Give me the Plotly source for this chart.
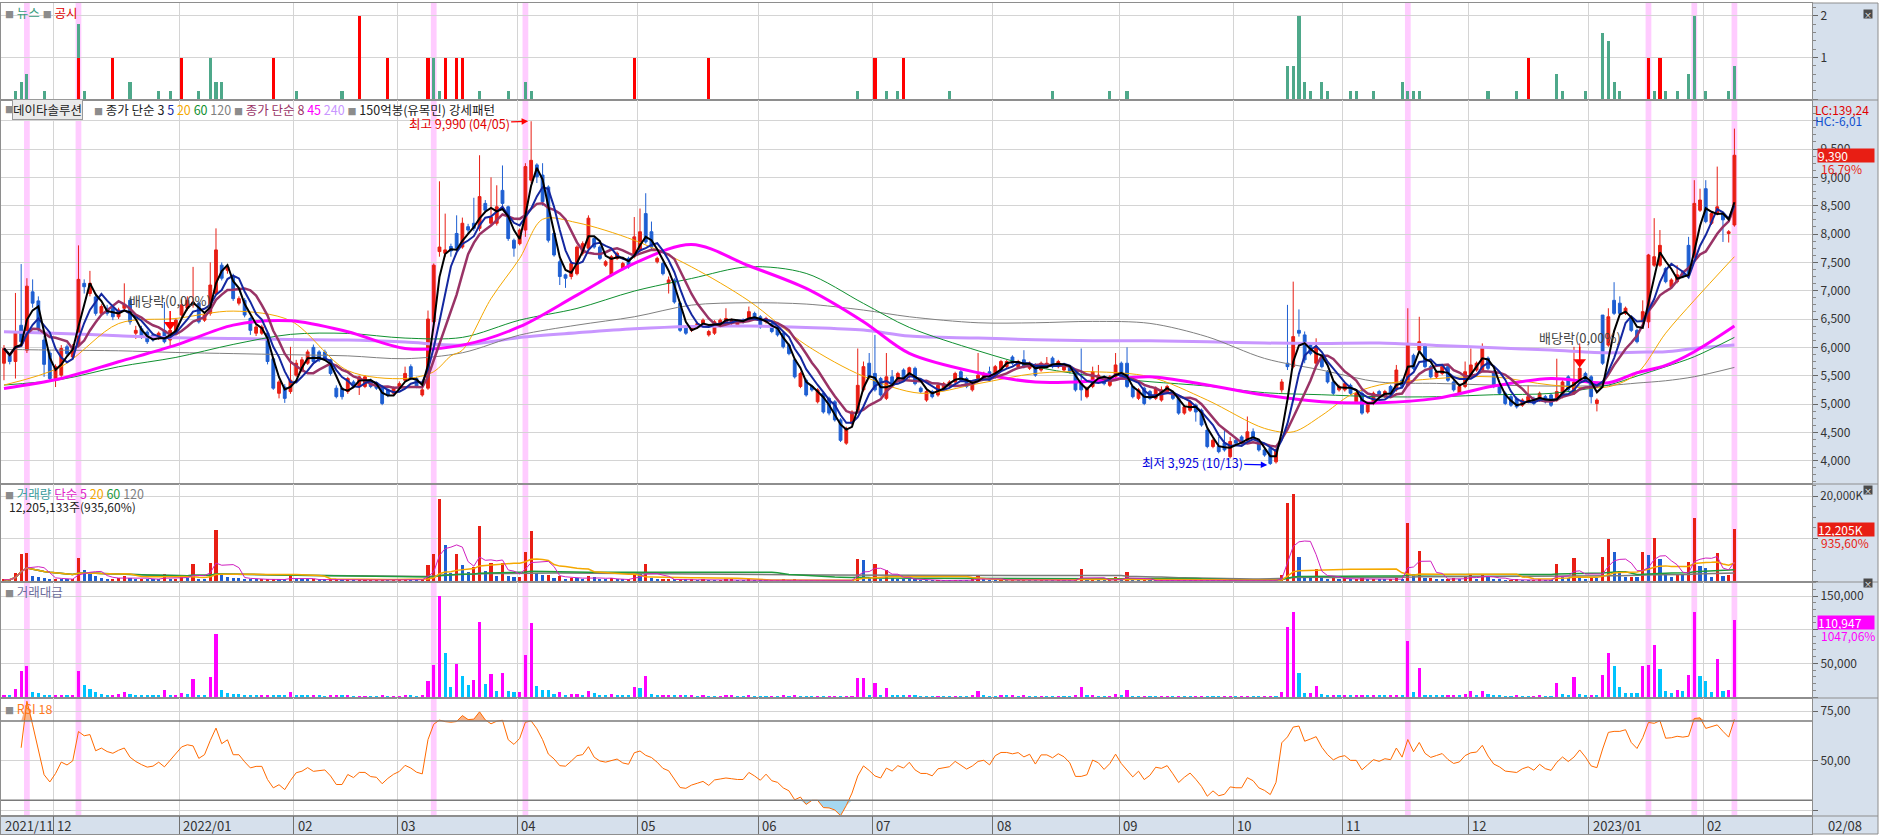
import numpy as np
import pandas as pd
import plotly.graph_objects as go

# KRX trading days on the chart (2021-11-18 .. 2023-02-08)
krx_holidays = ["2021-12-31", "2022-01-31", "2022-02-01", "2022-02-02", "2022-03-01",
                "2022-03-09", "2022-05-05", "2022-06-01", "2022-06-06", "2022-08-15",
                "2022-09-09", "2022-09-12", "2022-10-03", "2022-10-10", "2022-12-30",
                "2023-01-23", "2023-01-24"]
dates = [d for d in pd.bdate_range("2021-11-18", "2023-02-08")
         if d.strftime("%Y-%m-%d") not in krx_holidays]

# daily candles (won)
O = [5720, 5860, 5750, 6390, 5950, 6980, 6820, 6130, 5900, 5450,
     5510, 6010, 5830, 6040, 7130, 6950, 6890, 6600, 6690, 6690,
     6540, 6690, 6830, 6250, 6330, 6270, 6220, 6160, 6300, 6130,
     6250, 6570, 6690, 6750, 6780, 6480, 6600, 6950, 7450, 7360,
     7250, 6780, 6830, 6510, 6250, 6250, 6250, 5800, 5190, 5300,
     5220, 5510, 5600, 5720, 6000, 5920, 5920, 5780, 5280, 5280,
     5220, 5390, 5310, 5310, 5420, 5380, 5300, 5250, 5190, 5280,
     5420, 5660, 5450, 5160, 5280, 6450, 7690, 7660, 7780, 8010,
     7770, 8130, 8190, 8100, 8540, 8190, 8190, 8770, 8480, 7890,
     7830, 8070, 8950, 9220, 9040, 8830, 8010, 7510, 7280, 7250,
     7300, 7660, 7750, 7920, 7770, 7450, 7280, 7570, 7390, 7570,
     7600, 7720, 8360, 8040, 7510, 7480, 7130, 7190, 6780, 6360,
     6300, 6360, 6420, 6220, 6250, 6420, 6420, 6420, 6390, 6480,
     6480, 6600, 6540, 6450, 6420, 6360, 6250, 6040, 5780, 5310,
     5420, 5310, 5040, 5190, 5100, 5040, 4720, 4310, 4660, 4890,
     5250, 5720, 5540, 5450, 5100, 5480, 5420, 5600, 5480, 5630,
     5280, 5070, 5220, 5160, 5280, 5330, 5390, 5570, 5450, 5250,
     5450, 5450, 5570, 5480, 5600, 5660, 5830, 5660, 5780, 5630,
     5690, 5600, 5660, 5810, 5660, 5600, 5660, 5570, 5390, 5130,
     5310, 5450, 5480, 5330, 5480, 5720, 5720, 5310, 5100, 5280,
     5220, 5100, 5070, 5220, 5190, 5100, 4840, 4890, 4980, 4890,
     4540, 4250, 4250, 4310, 4070, 4360, 4420, 4360, 4510, 4310,
     4190, 4220, 3980, 5250, 5720, 5660, 6300, 6220, 6040, 5720,
     5830, 5570, 5390, 5250, 5250, 5330, 5040, 5190, 4860, 5010,
     5220, 5130, 5310, 5250, 5420, 5330, 5860, 5950, 6040, 5660,
     5480, 5540, 5660, 5390, 5190, 5310, 5480, 5600, 5600, 5810,
     5570, 5310, 5190, 5130, 5100, 4980, 5040, 5100, 5070, 5130,
     5160, 5070, 5130, 5480, 5190, 5390, 5540, 5480, 5010, 6570,
     6040, 6830, 6780, 6600, 6510, 6300, 6450, 6450, 7450, 7450,
     7390, 7070, 7160, 7330, 7800, 7600, 8420, 8800, 8190, 8360,
     8360, 8010, 8160]
H = [6040, 5900, 6960, 7470, 7220, 7200, 6900, 6200, 5950, 5700,
     6040, 6050, 6060, 7800, 7200, 7350, 6960, 6760, 6750, 6720,
     6700, 7130, 6870, 6380, 6380, 6300, 6250, 6280, 6800, 6420,
     6520, 6850, 6900, 7420, 6810, 6600, 7500, 8100, 7500, 7460,
     7300, 6900, 6870, 6540, 6400, 6400, 6280, 5830, 5420, 5350,
     6010, 5780, 5830, 5960, 6050, 5950, 5960, 5800, 5330, 5300,
     5480, 5420, 5500, 5510, 5450, 5400, 5330, 5280, 5310, 5400,
     5660, 5700, 5480, 5300, 6650, 7480, 8930, 8360, 7830, 8330,
     8290, 8180, 8640, 9390, 8600, 9000, 8860, 9210, 8500, 7920,
     8100, 9250, 9990, 9250, 9250, 8860, 8050, 7550, 7300, 7520,
     7800, 7870, 8330, 7950, 7800, 7540, 7630, 7690, 7510, 7600,
     8300, 8450, 8720, 8220, 7600, 7510, 7250, 7220, 6810, 6390,
     6390, 6450, 6510, 6310, 6480, 6510, 6690, 6510, 6480, 6510,
     6720, 6630, 6570, 6540, 6450, 6390, 6280, 6070, 5810, 5570,
     5450, 5340, 5280, 5220, 5130, 5070, 4750, 4600, 4890, 5980,
     5750, 5900, 6220, 5480, 5900, 5600, 5570, 5630, 5660, 5660,
     5310, 5250, 5250, 5360, 5390, 5420, 5570, 5600, 5480, 5420,
     5900, 5570, 5660, 5690, 5780, 5780, 5860, 5780, 5950, 5750,
     5720, 5750, 5830, 5840, 5780, 5720, 5690, 5600, 5980, 5310,
     5660, 5690, 5510, 5510, 5900, 5750, 6000, 5340, 5280, 5310,
     5250, 5310, 5310, 5340, 5220, 5130, 4980, 5070, 5010, 4920,
     4570, 4390, 4420, 4540, 4420, 4390, 4450, 4780, 4570, 4340,
     4220, 4250, 4220, 5440, 6750, 7160, 6670, 6280, 6070, 6160,
     5860, 5600, 5420, 5340, 5390, 5360, 5220, 5250, 5040, 5220,
     5250, 5250, 5340, 5690, 5450, 6690, 5890, 6540, 6070, 5690,
     5600, 5690, 5690, 5420, 5340, 5750, 5980, 5750, 6070, 5840,
     5600, 5340, 5220, 5160, 5130, 5100, 5330, 5130, 5220, 5160,
     5190, 5800, 5420, 5510, 6010, 6070, 5570, 5510, 5100, 6570,
     6690, 7150, 6900, 6720, 6540, 6330, 6830, 7650, 8280, 8070,
     7420, 7220, 7450, 7360, 7950, 8950, 8800, 8950, 8390, 9190,
     8390, 8070, 9860]
L = [5420, 5700, 5450, 6050, 5900, 6700, 6250, 5480, 5400, 5300,
     5480, 5850, 5800, 6000, 6950, 6900, 6560, 6560, 6560, 6480,
     6500, 6650, 6400, 6150, 6150, 6060, 6100, 6130, 6070, 6000,
     6220, 6540, 6650, 6700, 6420, 6450, 6560, 6920, 7180, 7300,
     6820, 6740, 6530, 6220, 6200, 6220, 5700, 5250, 5100, 5020,
     5180, 5480, 5560, 5690, 5700, 5740, 5770, 5500, 5100, 5080,
     5180, 5280, 5160, 5280, 5280, 5250, 4980, 5120, 5160, 5250,
     5400, 5420, 5280, 5130, 5250, 6400, 7600, 7600, 7600, 7700,
     7740, 8000, 8050, 8050, 8380, 8150, 8150, 8480, 7880, 7600,
     7800, 7950, 8900, 8900, 8500, 7850, 7600, 7100, 7050, 7200,
     7270, 7620, 7700, 7740, 7540, 7420, 7250, 7540, 7360, 7390,
     7570, 7690, 7830, 7740, 7480, 7270, 6950, 6770, 6270, 6220,
     6270, 6330, 6390, 6190, 6220, 6390, 6390, 6390, 6360, 6420,
     6450, 6480, 6330, 6420, 6250, 6190, 5980, 5860, 5450, 5280,
     5130, 5220, 5010, 4830, 4800, 4690, 4330, 4280, 4630, 4860,
     5220, 5450, 5220, 5130, 5070, 5330, 5390, 5420, 5450, 5330,
     5190, 5040, 5100, 5130, 5250, 5300, 5360, 5390, 5280, 5220,
     5420, 5420, 5390, 5450, 5570, 5630, 5690, 5630, 5630, 5600,
     5480, 5570, 5630, 5630, 5630, 5570, 5540, 5220, 5060, 5100,
     5280, 5420, 5330, 5300, 5450, 5450, 5280, 5100, 5070, 4980,
     5070, 5070, 5040, 5190, 5070, 4810, 4810, 4860, 4690, 4600,
     4220, 4220, 4130, 4160, 4040, 4280, 4280, 4330, 4390, 4160,
     4070, 3925, 3950, 5200, 5600, 5630, 6190, 5720, 5860, 5690,
     5630, 5360, 5160, 5220, 5220, 5160, 5010, 4810, 4830, 4980,
     5100, 5100, 5160, 5220, 5280, 5300, 5600, 5920, 5630, 5450,
     5450, 5510, 5390, 5220, 5160, 5280, 5450, 5570, 5570, 5600,
     5280, 5160, 4980, 4950, 4920, 4950, 5010, 4980, 5040, 5010,
     4950, 5040, 5100, 5220, 5160, 5360, 5390, 5010, 4870, 5690,
     6010, 6570, 6570, 6570, 6270, 6070, 6420, 6340, 7420, 7420,
     7130, 7040, 7130, 7220, 7270, 7570, 8390, 8190, 8160, 8330,
     7860, 7850, 8130]
C = [5980, 5750, 6280, 6100, 7080, 6780, 6310, 5700, 5450, 5660,
     5980, 5890, 6010, 7200, 7070, 7130, 6600, 6720, 6600, 6540,
     6660, 6750, 6450, 6300, 6190, 6100, 6130, 6250, 6100, 6300,
     6480, 6750, 6830, 6800, 6450, 6570, 7100, 7720, 7220, 7420,
     6860, 6860, 6570, 6300, 6360, 6360, 5750, 5280, 5390, 5100,
     5420, 5720, 5780, 5920, 5750, 5780, 5800, 5540, 5130, 5130,
     5450, 5310, 5480, 5480, 5310, 5280, 5010, 5160, 5280, 5360,
     5540, 5450, 5310, 5250, 6500, 7450, 7770, 7720, 7700, 7750,
     8190, 8070, 8100, 8660, 8420, 8300, 8480, 8540, 7920, 7750,
     8070, 9190, 9300, 9010, 8570, 7890, 7630, 7250, 7220, 7480,
     7770, 7830, 8280, 7770, 7570, 7510, 7600, 7660, 7480, 7420,
     7950, 8040, 7860, 7770, 7570, 7300, 7190, 6800, 6300, 6250,
     6360, 6420, 6480, 6280, 6450, 6480, 6510, 6480, 6450, 6450,
     6630, 6510, 6360, 6510, 6280, 6220, 6010, 5890, 5480, 5540,
     5160, 5250, 5250, 4860, 4840, 4720, 4360, 4570, 4860, 5330,
     5660, 5480, 5250, 5160, 5480, 5360, 5540, 5450, 5640, 5360,
     5220, 5220, 5130, 5330, 5360, 5390, 5540, 5420, 5310, 5390,
     5510, 5540, 5420, 5660, 5750, 5750, 5720, 5750, 5660, 5720,
     5510, 5720, 5720, 5660, 5750, 5690, 5570, 5250, 5250, 5280,
     5570, 5510, 5360, 5480, 5690, 5480, 5310, 5130, 5250, 5010,
     5100, 5280, 5250, 5310, 5100, 4840, 4950, 5040, 4860, 4630,
     4250, 4360, 4160, 4190, 4340, 4310, 4310, 4510, 4420, 4190,
     4100, 3950, 4190, 5390, 5660, 6190, 6250, 5780, 5890, 6010,
     5660, 5390, 5190, 5310, 5360, 5190, 5190, 4840, 5010, 5190,
     5130, 5220, 5190, 5600, 5310, 6070, 5630, 6100, 5660, 5480,
     5570, 5660, 5420, 5250, 5310, 5570, 5690, 5720, 6010, 5630,
     5310, 5190, 5010, 4980, 4950, 5070, 5130, 5010, 5190, 5040,
     4980, 5220, 5390, 5250, 5390, 5630, 5420, 5130, 5070, 5720,
     6540, 6600, 6600, 6690, 6300, 6100, 6630, 7630, 7600, 7800,
     7160, 7190, 7280, 7250, 7300, 8540, 8600, 8220, 8360, 8480,
     8250, 8040, 9390]
# volume, thousand shares
VOL = [300, 300, 1830, 6350, 6590, 1100, 950, 640, 500, 500,
       480, 350, 350, 5400, 2540, 1600, 1100, 640, 480, 560,
       640, 1200, 700, 500, 500, 450, 400, 350, 1600, 400,
       500, 900, 600, 3970, 500, 350, 4200, 12070, 1430, 900,
       700, 600, 500, 400, 350, 350, 400, 400, 350, 300,
       1430, 400, 350, 300, 350, 300, 250, 300, 350, 300,
       300, 250, 250, 250, 250, 250, 300, 250, 250, 250,
       400, 300, 250, 300, 3730, 6300, 19300, 8500, 2000, 6350,
       3730, 2220, 3180, 12860, 2380, 4200, 1100, 4200, 1100, 950,
       1000, 6800, 11800, 1800, 1300, 1400, 650, 1100, 480, 670,
       650, 450, 1150, 840, 460, 300, 600, 300, 280, 280,
       1950, 1740, 4000, 640, 280, 300, 320, 290, 330, 300,
       320, 150, 300, 160, 140, 150, 320, 330, 150, 140,
       320, 140, 130, 120, 130, 120, 300, 150, 350, 150,
       140, 130, 150, 140, 150, 160, 170, 180, 200, 5160,
       4920, 650, 3900, 370, 2550, 600, 550, 380, 370, 360,
       150, 140, 130, 150, 140, 130, 150, 140, 130, 380,
       1500, 360, 150, 140, 360, 340, 370, 150, 360, 150,
       140, 150, 140, 130, 150, 140, 130, 380, 2780, 380,
       400, 150, 140, 150, 900, 380, 2060, 150, 140, 150,
       140, 130, 140, 150, 130, 150, 140, 130, 140, 300,
       150, 140, 130, 150, 160, 140, 150, 200, 150, 140,
       160, 200, 180, 1500, 18400, 20400, 5600, 1120, 1100, 2830,
       900, 370, 650, 370, 650, 370, 380, 660, 380, 390,
       380, 370, 380, 650, 370, 13700, 1420, 6970, 620, 640,
       360, 350, 370, 640, 380, 900, 1670, 370, 1580, 880,
       380, 370, 150, 150, 380, 150, 140, 150, 380, 150,
       140, 4100, 930, 670, 5380, 900, 370, 680, 650, 5600,
       9940, 6900, 2350, 970, 1000, 980, 6860, 6160, 10130, 5260,
       1330, 900, 1510, 1310, 4380, 14800, 3550, 2980, 960, 6600,
       1150, 1370, 12205]

# news / disclosure counts (top panel)
news_idx = [2, 3, 4, 7, 13, 14, 22, 27, 29, 34, 36, 37, 38, 51, 59, 75, 76, 83, 88, 91,
            92, 149, 154, 156, 165, 183, 193, 196, 224, 225, 226, 227, 228, 230, 231, 235, 236, 239, 244, 245,
            246, 247, 259, 264, 271, 272, 276, 279, 280, 281, 282, 288, 290, 292, 294, 295, 297, 301, 302]
news_val = [0.2, 0.4, 0.6, 0.2, 1.8, 0.2, 0.4, 0.2, 0.2, 0.2, 1.0, 0.4, 0.4, 0.2, 0.2, 1.0, 0.2, 0.2, 0.2, 0.4,
            0.2, 0.2, 0.2, 0.2, 0.2, 0.2, 0.2, 0.2, 0.8, 0.8, 2.0, 0.4, 0.2, 0.4, 0.2, 0.2, 0.2, 0.2, 0.4, 0.2,
            0.2, 0.2, 0.2, 0.2, 0.6, 0.2, 0.2, 1.6, 1.4, 0.4, 0.2, 0.2, 0.2, 0.2, 0.6, 2.0, 0.2, 0.2, 0.8]
disc_idx = [13, 19, 31, 47, 62, 67, 74, 77, 79, 80, 110, 123, 152, 157, 266, 287, 289]
disc_val = [1, 1, 1, 1, 2, 1, 1, 1, 1, 1, 1, 1, 1, 1, 1, 1, 1]

# days flagged by "150억봉(유목민) 강세패턴"
hot_idx = [4, 13, 75, 91, 245, 287, 295, 302]

# long moving averages (their history starts before the window)
ma_idx = [0, 10, 20, 30, 40, 50, 60, 70, 80, 90, 100, 110, 120, 130, 140, 150, 158,
          170, 180, 190, 200, 210, 220, 230, 240, 250, 260, 270, 280, 285, 290, 295, 302]
ma45 = [5276, 5452, 5746, 6040, 6393, 6470, 6276, 5982, 6040, 6364, 6922, 7481, 7816, 7440, 7040, 6452, 5893,
        5552, 5388, 5405, 5482, 5335, 5158, 5041, 5023, 5100, 5317, 5452, 5376, 5552, 5682, 5923, 6375]
ma60 = [5335, 5435, 5658, 5823, 6052, 6229, 6246, 6164, 6176, 6481, 6687, 6993, 7216, 7422, 7305, 6775, 6352,
        5940, 5658, 5494, 5394, 5317, 5200, 5164, 5129, 5129, 5164, 5188, 5335, 5494, 5658, 5835, 6176]
ma120 = [5964, 5950, 5940, 5910, 5890, 5870, 5850, 5800, 5905, 6217, 6393, 6540, 6746, 6787, 6764, 6658, 6540,
         6434, 6434, 6458, 6423, 6187, 5805, 5599, 5388, 5364, 5335, 5317, 5329, 5370, 5411, 5482, 5646]
ma240 = [6276, 6246, 6205, 6170, 6158, 6140, 6129, 6093, 6040, 6176, 6258, 6329, 6370, 6375, 6352, 6305, 6200,
         6164, 6135, 6117, 6117, 6099, 6076, 6070, 6076, 6035, 5993, 5952, 5905, 5915, 5923, 5982, 6040]
ma20_idx = [0, 10, 20, 30, 40, 50, 60, 70, 75, 78, 80, 85, 90, 94, 100, 110, 120, 130, 140, 150,
            160, 170, 180, 190, 200, 210, 220, 225, 230, 235, 240, 250, 260, 270, 280, 285, 290, 295, 302]
ma20 = [5335, 5660, 6420, 6510, 6640, 6470, 5590, 5450, 5570, 5850, 5950, 6860, 7570, 8260, 8200, 7890, 7420,
        6820, 6040, 5490, 5190, 5360, 5540, 5570, 5480, 5070, 4570, 4510, 4800, 5160, 5335, 5450, 5480, 5335,
        5305, 5540, 6250, 6830, 7600]

# ex-dividend markers
exdiv_idx = [29, 275]
exdiv_text_y = [6834, 6176]
exdiv_mark_y = [6400, 5740]
exdiv_line_top = [6640, 6010]

vol_text = "12,205,133주(935,60%)"
vol_ratio = "935,60%"
amt_last = "110,947"
amt_ratio = "1047,06%"

# ---------------------------------------------------------------
n = len(C)
idx = list(range(n))
dates = dates[:n]
month_starts = [i for i in range(1, n) if dates[i].month != dates[i - 1].month]
month_text = [dates[i].strftime("%Y/%m") if dates[i].month == 1 else dates[i].strftime("%m")
              for i in month_starts]
grid_x = [i - 0.4 for i in month_starts]

close = pd.Series(C, dtype=float)
ma3 = close.rolling(3, min_periods=1).mean()
ma5 = close.rolling(5, min_periods=1).mean()
ma8 = close.rolling(8, min_periods=1).mean()

vol = pd.Series(VOL, dtype=float)
vma = {w: vol.rolling(w, min_periods=1).mean() for w in (5, 20, 60, 120)}
amt = [v * c / 1000 for v, c in zip(VOL, C)]  # 백만원

delta = close.diff()
au = delta.clip(lower=0).ewm(alpha=1 / 18, adjust=True, min_periods=3).mean()
ad = (-delta).clip(lower=0).ewm(alpha=1 / 18, adjust=True, min_periods=3).mean()
rsi = 100 * au / (au + ad)
rsi_hi = rsi.where(rsi.isna() | (rsi > 70), 70)
rsi_lo = rsi.where(rsi.isna() | (rsi < 30), 30)

RED = "#E81E14"
BLUE = "#1E5FD2"
MAG = "#FF00FF"
CYAN = "#00C3FF"
vol_col = [RED if i == 0 or VOL[i] >= VOL[i - 1] else BLUE for i in idx]
amt_col = [MAG if i == 0 or amt[i] >= amt[i - 1] else CYAN for i in idx]

hi_i = int(np.argmax(H))
lo_i = int(np.argmin(L))
comma = lambda v: f"{v:.2f}".replace(".", ",")


def py(p):  # pixel row -> paper
    return (834 - p) / 831


def pxx(p):  # pixel column -> paper
    return (p - 1) / 1811


fig = go.Figure()

# news panel
fig.add_trace(go.Bar(x=news_idx, y=news_val, width=0.55, marker=dict(color="#4EA88A", line_width=0),
                     xaxis="x", yaxis="y"))
fig.add_trace(go.Bar(x=disc_idx, y=disc_val, width=0.55, marker=dict(color="#FF0000", line_width=0),
                     xaxis="x", yaxis="y"))

# price panel
for xs, ys, col, w in [(ma_idx, ma240, "#C896FF", 3), (ma_idx, ma120, "#808080", 1),
                       (ma_idx, ma60, "#109030", 1), (ma20_idx, ma20, "#F5A800", 1),
                       (ma_idx, ma45, "#FF00FF", 3)]:
    fig.add_trace(go.Scatter(x=xs, y=ys, mode="lines",
                             line=dict(color=col, width=w, shape="spline", smoothing=0.9),
                             xaxis="x2", yaxis="y2", hoverinfo="skip"))
fig.add_trace(go.Candlestick(x=idx, open=O, high=H, low=L, close=C, whiskerwidth=0,
                             increasing=dict(line=dict(color=RED, width=1), fillcolor=RED),
                             decreasing=dict(line=dict(color=BLUE, width=1), fillcolor=BLUE),
                             xaxis="x2", yaxis="y2", hoverinfo="skip"))
for ys, col, w in [(ma8, "#993366", 2.5), (ma5, "#1428A0", 2), (ma3, "#000000", 2)]:
    fig.add_trace(go.Scatter(x=idx, y=ys, mode="lines", line=dict(color=col, width=w),
                             xaxis="x2", yaxis="y2", hoverinfo="skip"))
for i, top, mk in zip(exdiv_idx, exdiv_line_top, exdiv_mark_y):
    fig.add_trace(go.Scatter(x=[i, i], y=[top, mk], mode="lines", line=dict(color="#FF0000", width=1.5),
                             xaxis="x2", yaxis="y2", hoverinfo="skip"))
    fig.add_trace(go.Scatter(x=[i], y=[mk], mode="markers",
                             marker=dict(symbol="triangle-down", size=11, color="#FF0000"),
                             xaxis="x2", yaxis="y2", hoverinfo="skip"))

# volume panel
fig.add_trace(go.Bar(x=idx, y=VOL, width=0.55, marker=dict(color=vol_col, line_width=0),
                     xaxis="x3", yaxis="y3", hoverinfo="skip"))
for w, col, lw in [(120, "#7A7A7A", 1.5), (60, "#1E9B3C", 1.5), (20, "#F5A800", 1.5), (5, "#D020C0", 1)]:
    fig.add_trace(go.Scatter(x=idx, y=vma[w], mode="lines", line=dict(color=col, width=lw),
                             xaxis="x3", yaxis="y3", hoverinfo="skip"))

# trading value panel
fig.add_trace(go.Bar(x=idx, y=amt, width=0.55, marker=dict(color=amt_col, line_width=0),
                     xaxis="x4", yaxis="y4", hoverinfo="skip"))

# RSI panel
fig.add_trace(go.Scatter(x=idx, y=[70] * n, mode="lines", line=dict(width=0), xaxis="x5", yaxis="y5",
                         hoverinfo="skip"))
fig.add_trace(go.Scatter(x=idx, y=rsi_hi, mode="lines", line=dict(width=0), fill="tonexty",
                         fillcolor="#F7B48C", xaxis="x5", yaxis="y5", hoverinfo="skip"))
fig.add_trace(go.Scatter(x=idx, y=[30] * n, mode="lines", line=dict(width=0), xaxis="x5", yaxis="y5",
                         hoverinfo="skip"))
fig.add_trace(go.Scatter(x=idx, y=rsi_lo, mode="lines", line=dict(width=0), fill="tonexty",
                         fillcolor="#A6D8F0", xaxis="x5", yaxis="y5", hoverinfo="skip"))
fig.add_trace(go.Scatter(x=idx, y=rsi, mode="lines", line=dict(color="#FF6A00", width=1),
                         xaxis="x5", yaxis="y5", hoverinfo="skip"))

# date band (axis strip)
fig.add_trace(go.Scatter(x=[0], y=[-1], mode="markers", marker=dict(opacity=0), xaxis="x6", yaxis="y6",
                         hoverinfo="skip"))

XR = [-0.52, 315.54]


def xax(n_, grid="#D4D4D4"):
    d = dict(domain=[0, 1], anchor="y" if n_ == 1 else f"y{n_}", range=XR, tickmode="array",
             tickvals=grid_x, showticklabels=False, ticks="", showgrid=True, gridcolor=grid,
             zeroline=False, showline=True, mirror=True, linecolor="#8E8E8E", linewidth=1,
             rangeslider=dict(visible=False))
    if n_ > 1:
        d["matches"] = "x"
    return d


def yax(n_, dom, rng, tv, tt, minor=None, **kw):
    d = dict(domain=dom, anchor="x" if n_ == 1 else f"x{n_}", range=rng, side="right",
             tickmode="array", tickvals=tv, ticktext=tt, ticks="outside", ticklen=5,
             tickcolor="#666666", tickfont=dict(size=12, color="#333333"), showgrid=True,
             gridcolor="#D4D4D4", zeroline=False, showline=True, mirror=True,
             linecolor="#8E8E8E", linewidth=1)
    if minor:
        d["minor"] = dict(ticks="outside", ticklen=3, tickcolor="#888888", dtick=minor, tick0=0,
                          showgrid=False)
    d.update(kw)
    return d


price_ticks = list(range(4000, 10001, 500))
layout_axes = dict(
    xaxis=xax(1), xaxis2=xax(2), xaxis3=xax(3), xaxis4=xax(4), xaxis5=xax(5),
    xaxis6=xax(6, grid="#707070"),
    yaxis=yax(1, [py(100), 1], [-0.024, 2.313], [0, 1, 2], ["", "1", "2"], minor=0.2),
    yaxis2=yax(2, [py(484), py(100)], [3589, 10365], price_ticks,
               [f"{v:,}" if v < 10000 else "" for v in price_ticks], minor=125),
    yaxis3=yax(3, [py(582), py(484)], [-235, 22824], [0, 10000, 20000], ["", "", "20,000K"],
               minor=2500, tickfont=dict(size=11.5, color="#333333")),
    yaxis4=yax(4, [py(698), py(582)], [-1485, 170792], [0, 50000, 100000, 150000],
               ["", "50,000", "", "150,000"], minor=10000),
    yaxis5=yax(5, [py(816), py(698)], [22.1, 81.6], [25, 50, 75], ["", "50,00", "75,00"]),
    yaxis6=yax(6, [0, py(816)], [0, 1], [], [], showgrid=False, ticks=""),
)

shapes = [
    dict(type="rect", xref="paper", yref="paper", x0=1, x1=pxx(1878), y0=0, y1=1,
         fillcolor="#D6E0EC", line_width=0, layer="below"),
    dict(type="rect", xref="paper", yref="paper", x0=0, x1=1, y0=0, y1=py(816),
         fillcolor="#D6E0EC", line_width=0, layer="below"),
    dict(type="line", xref="paper", yref="paper", x0=pxx(1878), x1=pxx(1878), y0=0, y1=1,
         line=dict(color="#8E8E8E", width=1)),
]
for b in [3, 100, 484, 582, 698, 816, 834]:
    shapes.append(dict(type="line", xref="paper", yref="paper", x0=1, x1=pxx(1878), y0=py(b), y1=py(b),
                       line=dict(color="#8E8E8E", width=1)))
for k in hot_idx:
    shapes.append(dict(type="rect", xref="x", yref="paper", x0=k - 0.5, x1=k + 0.5, y0=py(816), y1=1,
                       fillcolor="#FFCCFF", line_width=0, layer="below"))
for lvl in (70, 30):
    shapes.append(dict(type="line", xref="paper", yref="y5", x0=0, x1=1, y0=lvl, y1=lvl,
                       line=dict(color="#7A7A7A", width=1.5)))

SQ = '<span style="color:#8C8C8C;font-size:9px">■</span>'


def lab(text, x, y, color="#222222", size=12.5, **kw):
    d = dict(text=text, x=pxx(x), y=py(y), xref="paper", yref="paper", xanchor="left",
             yanchor="middle", showarrow=False, font=dict(size=size, color=color))
    d.update(kw)
    return d


ann = [
    lab(f'{SQ} <span style="color:#3A9C7E">뉴스</span> {SQ} <span style="color:#E00000">공시</span>', 3, 12),
    lab(SQ, 3, 110),
    lab("데이타솔루션", 12, 110, bgcolor="#EAEAEA", bordercolor="#9A9A9A", borderwidth=1, borderpad=0),
    lab(f'{SQ} 종가 단순 3 <span style="color:#1428A0">5</span> <span style="color:#F5A800">20</span> '
        f'<span style="color:#109030">60</span> <span style="color:#7F7F7F">120</span> {SQ} '
        f'<span style="color:#993366">종가 단순 8</span> <span style="color:#FF00FF">45</span> '
        f'<span style="color:#C896FF">240</span> {SQ} 150억봉(유목민) 강세패턴', 92, 110),
    lab(f'{SQ} <span style="color:#3A9C9C">거래량</span> <span style="color:#E020C8">단순 5</span> '
        f'<span style="color:#F5A800">20</span> <span style="color:#1E9B3C">60</span> '
        f'<span style="color:#7F7F7F">120</span>', 3, 493),
    lab(vol_text, 7, 507, size=12),
    lab(f'{SQ} <span style="color:#6A6A9A">거래대금</span>', 3, 591),
    lab(f'{SQ} <span style="color:#FF7A1E">RSI 18</span>', 3, 708),
    lab(f"LC:{comma((C[-1] / L[lo_i] - 1) * 100)}", 1813, 109, color="#E00000", size=12),
    lab(f"HC:{comma((C[-1] / H[hi_i] - 1) * 100)}", 1813, 121, color="#1050D0", size=12),
]
# last-value boxes on the right scale
for y, ref, txt, sub, col in [(C[-1], "y2", f"{C[-1]:,}", f"{comma((C[-1] / C[-2] - 1) * 100)}%", RED),
                              (VOL[-1], "y3", f"{VOL[-1]:,}K", vol_ratio, RED),
                              (110947, "y4", amt_last, amt_ratio, MAG)]:
    ann.append(dict(text=txt, x=pxx(1817), y=y, xref="paper", yref=ref, xanchor="left", yanchor="middle",
                    showarrow=False, bgcolor=col, font=dict(color="white", size=12), width=56, height=13,
                    align="left", borderpad=0))
    ann.append(dict(text=sub, x=pxx(1819), y=y, xref="paper", yref=ref, xanchor="left", yanchor="middle",
                    yshift=-13, showarrow=False, font=dict(color=col, size=12)))
for yy in (9, 490, 588):
    ann.append(dict(text="×", x=pxx(1873), y=py(yy), xref="paper", yref="paper", showarrow=False,
                    bgcolor="#4A4A4A", font=dict(color="white", size=8), width=8, height=8, borderpad=0))
# highest / lowest
ann.append(dict(text=f"최고 {H[hi_i]:,} ({dates[hi_i]:%m/%d})", x=hi_i, y=H[hi_i], xref="x2", yref="y2",
                showarrow=True, arrowhead=2, arrowsize=1, arrowwidth=1.3, arrowcolor="#FF0000",
                ax=-72, ay=2, standoff=3, font=dict(color="#E00000", size=12.5)))
ann.append(dict(text=f"최저 {L[lo_i]:,} ({dates[lo_i]:%m/%d})", x=lo_i, y=L[lo_i], xref="x2", yref="y2",
                showarrow=True, arrowhead=2, arrowsize=1, arrowwidth=1.3, arrowcolor="#0000FF",
                ax=-78, ay=-2, standoff=3, font=dict(color="#0000E0", size=12.5)))
for i, ty in zip(exdiv_idx, exdiv_text_y):
    ann.append(dict(text="배당락(0,00%)", x=i, y=ty, xref="x2", yref="y2", showarrow=False,
                    font=dict(color="#444444", size=13)))
# date strip labels
for i, t in zip([0] + month_starts, [dates[0].strftime("%Y/%m")] + month_text):
    ann.append(dict(text=t, x=max(i - 0.4, XR[0]) + 0.3, y=py(825), xref="x6", yref="paper",
                    xanchor="left", yanchor="middle", showarrow=False,
                    font=dict(size=13, color="#333333")))
ann.append(lab(dates[-1].strftime("%m/%d"), 1826, 825, color="#333333", size=13))

fig.update_layout(
    width=1883, height=839, margin=dict(l=1, r=71, t=3, b=5),
    paper_bgcolor="white", plot_bgcolor="white", showlegend=False, hovermode=False,
    barmode="overlay", bargap=0,
    font=dict(family="Noto Sans CJK KR, Noto Sans, sans-serif", size=12, color="#222222"),
    shapes=shapes, annotations=ann, **layout_axes,
)

fig.write_html("out.html", config={"displayModeBar": False},
               post_script="document.body.style.margin='0';document.body.style.overflow='hidden';")
